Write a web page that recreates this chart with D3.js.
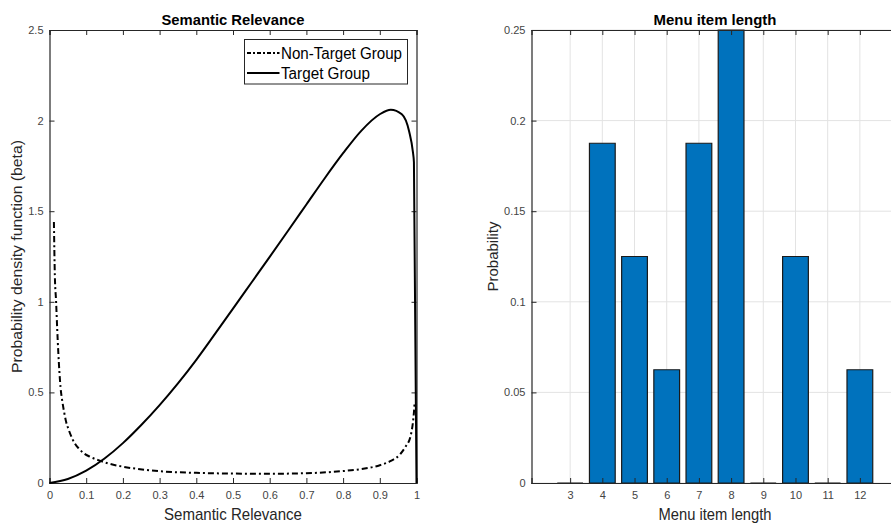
<!DOCTYPE html>
<html>
<head>
<meta charset="utf-8">
<script src="https://cdn.jsdelivr.net/npm/d3@7"></script>
<style>
  body { margin: 0; background: #fff; }
  svg { font-family: "Liberation Sans", Arial, sans-serif; }
</style>
</head>
<body>
<svg id="chart" width="891" height="524"></svg>
<script>
// left panel: pdf curves (x, density)
const nonTargetX = [0.012, 0.0145, 0.018, 0.021, 0.024, 0.03, 0.035, 0.04, 0.045, 0.053, 0.062, 0.07, 0.08, 0.093, 0.11, 0.133, 0.16, 0.2, 0.26, 0.3, 0.4, 0.5, 0.6, 0.7, 0.8, 0.85, 0.9, 0.93, 0.956, 0.97, 0.984, 0.99, 0.993, 0.995]
const nonTargetY = [1.44, 1.15, 1.0, 0.85, 0.72, 0.53, 0.45, 0.39, 0.34, 0.29, 0.245, 0.215, 0.19, 0.165, 0.145, 0.126, 0.108, 0.09, 0.073, 0.065, 0.056, 0.052, 0.051, 0.054, 0.066, 0.077, 0.098, 0.122, 0.16, 0.2, 0.26, 0.33, 0.39, 0.45]
const targetX = [0, 0.05, 0.1, 0.15, 0.2, 0.25, 0.3, 0.35, 0.4, 0.45, 0.5, 0.55, 0.6, 0.65, 0.7, 0.75, 0.8, 0.85, 0.9, 0.93, 0.96, 0.98, 0.99, 0.993, 1.0]
const targetY = [0, 0.022, 0.068, 0.135, 0.22, 0.32, 0.43, 0.55, 0.68, 0.82, 0.962, 1.105, 1.248, 1.392, 1.537, 1.682, 1.82, 1.945, 2.035, 2.06, 2.035, 1.94, 1.83, 1.77, 0]
const leftXTicks = [0, 0.1, 0.2, 0.3, 0.4, 0.5, 0.6, 0.7, 0.8, 0.9, 1]
const leftYTicks = [0, 0.5, 1, 1.5, 2, 2.5]

// right panel: histogram of menu item length
const menuLengths = [3, 4, 5, 6, 7, 8, 9, 10, 11, 12]
const menuProb = [0, 0.1875, 0.125, 0.0625, 0.1875, 0.25, 0, 0.125, 0, 0.0625]
const rightYTicks = [0, 0.05, 0.1, 0.15, 0.2, 0.25]

const svg = d3.select("#chart")
const axisColor = "#262626"
const tickColor = "#444"
const plotTop = 30, plotBottom = 483

// the source figure is squeezed sideways, so texts get a fixed length
function label(g, x, y, txt, size, len, opts = {}) {
  const t = g.append("text").attr("x", x).attr("y", y)
    .attr("text-anchor", opts.anchor || "middle").attr("font-size", size + "px")
    .attr("fill", opts.fill || axisColor).text(txt)
    .attr("textLength", len).attr("lengthAdjust", "spacingAndGlyphs")
  if (opts.bold) t.attr("font-weight", "bold")
  if (opts.rotate) t.attr("transform", `rotate(-90,${x},${y})`)
  return t
}

// ---------- left panel ----------
const L = {left: 49.5, right: 416.5}
const xL = d3.scaleLinear().domain([0, 1]).range([L.left, L.right])
const yL = d3.scaleLinear().domain([0, 2.5]).range([plotBottom, plotTop])

const gl = svg.append("g")

// ticks pointing inward, on all four sides
gl.append("g").attr("transform", `translate(0,${plotBottom})`)
  .call(d3.axisBottom(xL).tickValues(leftXTicks).tickSize(-5).tickPadding(8).tickFormat(d3.format("~g")))
gl.append("g").attr("transform", `translate(0,${plotTop})`)
  .call(d3.axisTop(xL).tickValues(leftXTicks).tickSize(-5).tickFormat(""))
gl.append("g").attr("transform", `translate(${L.left},0)`)
  .call(d3.axisLeft(yL).tickValues(leftYTicks).tickSize(-5).tickPadding(6).tickFormat(d3.format("~g")))
gl.append("g").attr("transform", `translate(${L.right},0)`)
  .call(d3.axisRight(yL).tickValues(leftYTicks).tickSize(-5).tickFormat(""))

const nonTarget = nonTargetX.map((x, i) => [x, nonTargetY[i]])
const target = targetX.map((x, i) => [x, targetY[i]])
const line = d3.line().x(d => xL(d[0])).y(d => yL(d[1])).curve(d3.curveMonotoneX)

gl.append("path").datum(nonTarget)
  .attr("d", line).attr("fill", "none").attr("stroke", "#000")
  .attr("stroke-width", 2).attr("stroke-dasharray", "6,3,2,3")
gl.append("path").datum(target)
  .attr("d", line).attr("fill", "none").attr("stroke", "#000")
  .attr("stroke-width", 2)

// legend
const lg = gl.append("g").attr("transform", "translate(244.5,39.5)")
lg.append("rect").attr("width", 163).attr("height", 44.5)
  .attr("fill", "#fff").attr("stroke", axisColor).attr("stroke-width", 1)
const legendItems = [["Non-Target Group", "4,2,2,2", 121], ["Target Group", null, 89]]
legendItems.forEach((d, i) => {
  const y = 13.5 + i * 20
  lg.append("line").attr("x1", 2.5).attr("x2", 35).attr("y1", y).attr("y2", y)
    .attr("stroke", "#000").attr("stroke-width", 2)
    .attr("stroke-dasharray", d[1])
  label(lg, 36.5, y + 6, d[0], 16, d[2], {anchor: "start", fill: "#000"})
})

label(gl, (L.left + L.right) / 2, 25, "Semantic Relevance", 15, 143, {bold: true, fill: "#000"})
label(gl, (L.left + L.right) / 2, 520, "Semantic Relevance", 17, 138)
label(gl, 22, (plotTop + plotBottom) / 2, "Probability density function (beta)", 14, 233, {rotate: true})

// ---------- right panel ----------
const R = {left: 531.5, right: 898.5}
const xR = d3.scaleLinear().domain([1.8, 13.2]).range([R.left, R.right])
const yR = d3.scaleLinear().domain([0, 0.25]).range([plotBottom, plotTop])

const gr = svg.append("g")

// grid
gr.append("g").selectAll("line").data(menuLengths).join("line")
  .attr("x1", d => xR(d)).attr("x2", d => xR(d)).attr("y1", plotTop).attr("y2", plotBottom)
  .attr("stroke", "#e3e3e3").attr("stroke-width", 1)
gr.append("g").selectAll("line").data(rightYTicks).join("line")
  .attr("x1", R.left).attr("x2", R.right).attr("y1", d => yR(d)).attr("y2", d => yR(d))
  .attr("stroke", "#e3e3e3").attr("stroke-width", 1)

// bars (drawn as paths so zero-height bars still show their edge)
const barW = 0.8
gr.append("g").selectAll("path").data(menuLengths).join("path")
  .attr("d", (d, i) => {
    const x0 = xR(d - barW / 2), x1 = xR(d + barW / 2)
    const y0 = yR(0), y1 = yR(menuProb[i])
    return `M${x0},${y0}V${y1}H${x1}V${y0}Z`
  })
  .attr("fill", "#0072BD").attr("stroke", "#1a1a1a").attr("stroke-width", 1.2)

gr.append("g").attr("transform", `translate(0,${plotBottom})`)
  .call(d3.axisBottom(xR).tickValues(menuLengths).tickSize(-5).tickPadding(8))
gr.append("g").attr("transform", `translate(0,${plotTop})`)
  .call(d3.axisTop(xR).tickValues(menuLengths).tickSize(-5).tickFormat(""))
gr.append("g").attr("transform", `translate(${R.left},0)`)
  .call(d3.axisLeft(yR).tickValues(rightYTicks).tickSize(-5).tickPadding(6).tickFormat(d3.format("~g")))
gr.append("g").attr("transform", `translate(${R.right},0)`)
  .call(d3.axisRight(yR).tickValues(rightYTicks).tickSize(-5).tickFormat(""))

label(gr, (R.left + R.right) / 2, 25, "Menu item length", 15, 123, {bold: true, fill: "#000"})
label(gr, (R.left + R.right) / 2, 520, "Menu item length", 17, 113)
label(gr, 498, (plotTop + plotBottom) / 2, "Probability", 14, 70, {rotate: true})

// axis styling, MATLAB look
svg.selectAll(".domain").attr("stroke", axisColor).attr("stroke-width", 1.2)
svg.selectAll(".tick line").attr("stroke", axisColor)
svg.selectAll(".tick text").attr("font-size", "11px").attr("fill", tickColor)
  .attr("font-family", "\"Liberation Sans\", Arial, sans-serif")
</script>
</body>
</html>
